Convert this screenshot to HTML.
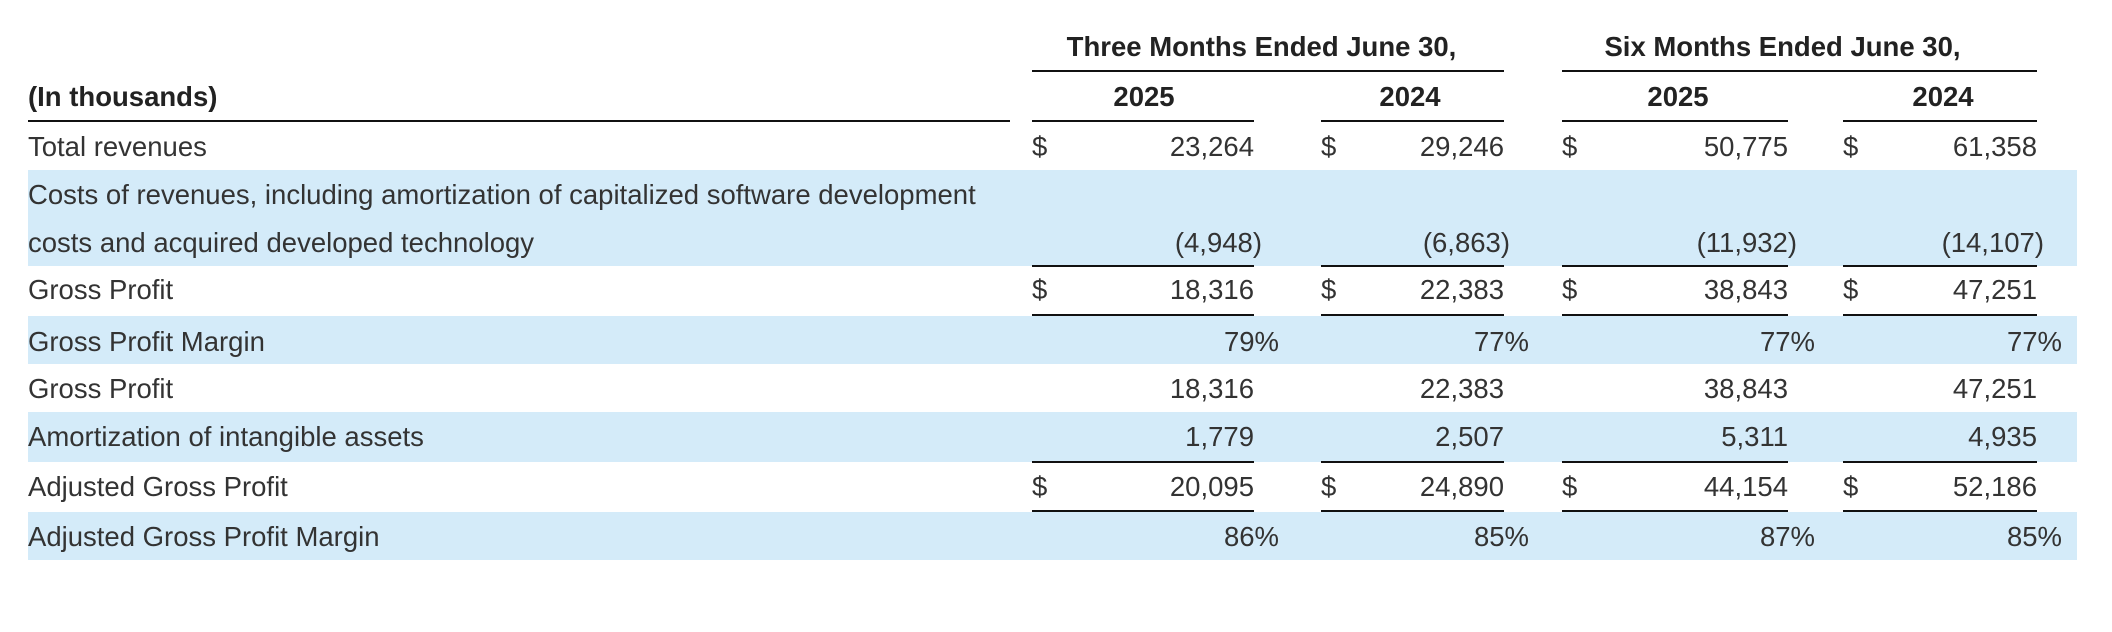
<!DOCTYPE html>
<html><head><meta charset="utf-8"><style>
body{margin:0;width:2112px;height:632px;background:#fff;position:relative;overflow:hidden;font-family:"Liberation Sans",Arial,sans-serif;color:#333;font-size:27.5px}
.a{position:absolute;white-space:nowrap;line-height:30px;height:30px}
.b{font-weight:bold;color:#222}
.r{text-align:right}
.band{position:absolute;left:28px;width:2049px;background:#d4ebf9}
.ln{position:absolute;height:2px;background:#111}
</style></head><body>
<div class="band" style="top:170px;height:96px"></div>
<div class="band" style="top:316px;height:48px"></div>
<div class="band" style="top:412px;height:50px"></div>
<div class="band" style="top:512px;height:48px"></div>

<div class="ln" style="left:1032px;width:472px;top:70px"></div>
<div class="ln" style="left:1562px;width:475px;top:70px"></div>
<div class="ln" style="left:28px;width:982px;top:120px"></div>
<div class="ln" style="left:1032px;width:222px;top:120px"></div>
<div class="ln" style="left:1321px;width:183px;top:120px"></div>
<div class="ln" style="left:1562px;width:226px;top:120px"></div>
<div class="ln" style="left:1843px;width:194px;top:120px"></div>
<div class="ln" style="left:1032px;width:222px;top:265px"></div>
<div class="ln" style="left:1321px;width:183px;top:265px"></div>
<div class="ln" style="left:1562px;width:226px;top:265px"></div>
<div class="ln" style="left:1843px;width:194px;top:265px"></div>
<div class="ln" style="left:1032px;width:222px;top:314px"></div>
<div class="ln" style="left:1321px;width:183px;top:314px"></div>
<div class="ln" style="left:1562px;width:226px;top:314px"></div>
<div class="ln" style="left:1843px;width:194px;top:314px"></div>
<div class="ln" style="left:1032px;width:222px;top:461px"></div>
<div class="ln" style="left:1321px;width:183px;top:461px"></div>
<div class="ln" style="left:1562px;width:226px;top:461px"></div>
<div class="ln" style="left:1843px;width:194px;top:461px"></div>
<div class="ln" style="left:1032px;width:222px;top:510px"></div>
<div class="ln" style="left:1321px;width:183px;top:510px"></div>
<div class="ln" style="left:1562px;width:226px;top:510px"></div>
<div class="ln" style="left:1843px;width:194px;top:510px"></div>

<div class="a b" style="left:1023px;width:477px;top:32px;text-align:center">Three Months Ended June 30,</div>
<div class="a b" style="left:1543px;width:479px;top:32px;text-align:center">Six Months Ended June 30,</div>
<div class="a b" style="left:28px;top:82px">(In thousands)</div>
<div class="a b" style="left:1044px;width:200px;top:82px;text-align:center">2025</div>
<div class="a b" style="left:1310px;width:200px;top:82px;text-align:center">2024</div>
<div class="a b" style="left:1578px;width:200px;top:82px;text-align:center">2025</div>
<div class="a b" style="left:1843px;width:200px;top:82px;text-align:center">2024</div>

<div class="a" style="left:28px;top:132px">Total revenues</div>
<div class="a" style="left:28px;top:180px">Costs of revenues, including amortization of capitalized software development</div>
<div class="a" style="left:28px;top:228px">costs and acquired developed technology</div>
<div class="a" style="left:28px;top:275px">Gross Profit</div>
<div class="a" style="left:28px;top:327px">Gross Profit Margin</div>
<div class="a" style="left:28px;top:374px">Gross Profit</div>
<div class="a" style="left:28px;top:422px">Amortization of intangible assets</div>
<div class="a" style="left:28px;top:472px">Adjusted Gross Profit</div>
<div class="a" style="left:28px;top:522px">Adjusted Gross Profit Margin</div>

<div class="a" style="left:1032px;top:132px">$</div><div class="a" style="left:1321px;top:132px">$</div><div class="a" style="left:1562px;top:132px">$</div><div class="a" style="left:1843px;top:132px">$</div>
<div class="a" style="left:1032px;top:275px">$</div><div class="a" style="left:1321px;top:275px">$</div><div class="a" style="left:1562px;top:275px">$</div><div class="a" style="left:1843px;top:275px">$</div>
<div class="a" style="left:1032px;top:472px">$</div><div class="a" style="left:1321px;top:472px">$</div><div class="a" style="left:1562px;top:472px">$</div><div class="a" style="left:1843px;top:472px">$</div>

<div class="a r" style="right:858px;top:132px">23,264</div><div class="a r" style="right:608px;top:132px">29,246</div><div class="a r" style="right:324px;top:132px">50,775</div><div class="a r" style="right:75px;top:132px">61,358</div>
<div class="a r" style="right:850px;top:228px">(4,948)</div><div class="a r" style="right:602px;top:228px">(6,863)</div><div class="a r" style="right:315px;top:228px">(11,932)</div><div class="a r" style="right:68px;top:228px">(14,107)</div>
<div class="a r" style="right:858px;top:275px">18,316</div><div class="a r" style="right:608px;top:275px">22,383</div><div class="a r" style="right:324px;top:275px">38,843</div><div class="a r" style="right:75px;top:275px">47,251</div>
<div class="a r" style="right:833px;top:327px">79%</div><div class="a r" style="right:583px;top:327px">77%</div><div class="a r" style="right:297px;top:327px">77%</div><div class="a r" style="right:50px;top:327px">77%</div>
<div class="a r" style="right:858px;top:374px">18,316</div><div class="a r" style="right:608px;top:374px">22,383</div><div class="a r" style="right:324px;top:374px">38,843</div><div class="a r" style="right:75px;top:374px">47,251</div>
<div class="a r" style="right:858px;top:422px">1,779</div><div class="a r" style="right:608px;top:422px">2,507</div><div class="a r" style="right:324px;top:422px">5,311</div><div class="a r" style="right:75px;top:422px">4,935</div>
<div class="a r" style="right:858px;top:472px">20,095</div><div class="a r" style="right:608px;top:472px">24,890</div><div class="a r" style="right:324px;top:472px">44,154</div><div class="a r" style="right:75px;top:472px">52,186</div>
<div class="a r" style="right:833px;top:522px">86%</div><div class="a r" style="right:583px;top:522px">85%</div><div class="a r" style="right:297px;top:522px">87%</div><div class="a r" style="right:50px;top:522px">85%</div>
</body></html>
